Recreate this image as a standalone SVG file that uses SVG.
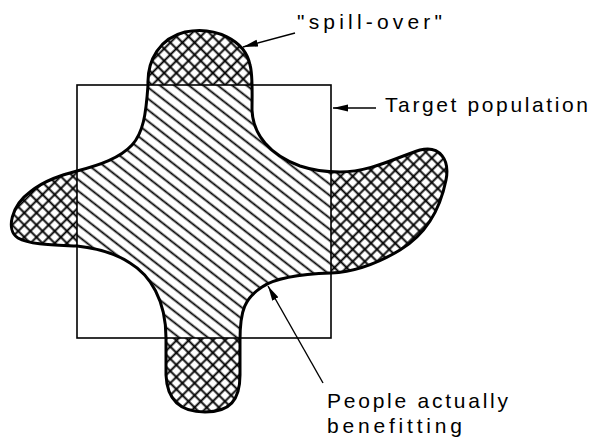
<svg xmlns="http://www.w3.org/2000/svg" width="593" height="437" viewBox="0 0 593 437">
<style>
.lbl{font-family:"Liberation Sans",Arial,sans-serif;font-size:21px;fill:#000}
.conn{stroke:#000;stroke-width:1.4;fill:none}
.outline{fill:none;stroke:#000;stroke-width:3;stroke-linejoin:round}
.sq{fill:none;stroke:#000;stroke-width:1.6}
</style>
<defs>
<pattern id="xh" width="8.6" height="8.6" patternUnits="userSpaceOnUse" patternTransform="rotate(45)">
<path d="M0,4.3 H8.6 M4.3,0 V8.6" stroke="#000" stroke-width="1.9"/>
</pattern>
<pattern id="hh" width="10" height="8.9" patternUnits="userSpaceOnUse" patternTransform="rotate(38)">
<path d="M0,4.45 H10" stroke="#000" stroke-width="1.8"/>
</pattern>
<path id="blobPath" d="M148,85 C147,60 160,38 185,32 C215,26 245,40 250,65 C253,75 252,95 252,110 C253,135 270,155 300,166 C315,171 325,172 340,172 C370,172 395,158 420,150 C440,145 450,160 446,180 C440,210 425,235 400,250 C380,262 355,272 331,273 C300,274 275,278 262,287 C245,298 240,310 240,340 L240,375 C240,400 230,412 205,412 C180,412 167,400 166,375 L166,338 C166,300 150,275 130,263 C115,253 95,248 77,246 C55,245 30,245 18,238 C5,230 12,205 30,192 C45,180 62,175 77,171 C100,165 120,158 132,145 C143,133 146,115 148,85 Z"/>
<clipPath id="blobClip"><use href="#blobPath"/></clipPath>
<marker id="ah" markerUnits="userSpaceOnUse" markerWidth="16" markerHeight="10" refX="15" refY="4" orient="auto">
<path d="M0,0.5 L15,4 L0,7.5 Z" fill="#000"/>
</marker>
</defs>
<g id="people-actually-benefitting-region">
<use href="#blobPath" fill="url(#xh)"/>
<g clip-path="url(#blobClip)">
<rect x="77" y="85" width="254" height="253" fill="#fff"/>
<rect x="77" y="85" width="254" height="253" fill="url(#hh)"/>
</g>
<use href="#blobPath" class="outline"/>
</g>
<g id="target-population">
<rect x="77" y="85" width="254" height="253" class="sq"/>
</g>
<g id="connectors">
<line x1="295" y1="33" x2="243" y2="47" class="conn" marker-end="url(#ah)"/>
<line x1="376" y1="108" x2="333" y2="108" class="conn" marker-end="url(#ah)"/>
<line x1="323" y1="383" x2="268" y2="286" class="conn" marker-end="url(#ah)"/>
</g>
<g id="label-spill-over">
<text class="lbl" x="297" y="29" textLength="145" lengthAdjust="spacing">"spill-over"</text>
</g>
<g id="label-target-population">
<text class="lbl" x="385" y="112" textLength="203" lengthAdjust="spacing">Target population</text>
</g>
<g id="label-people">
<text class="lbl" x="327" y="408" textLength="181" lengthAdjust="spacing">People actually</text>
<text class="lbl" x="327" y="433" textLength="135" lengthAdjust="spacing">benefitting</text>
</g>
</svg>
